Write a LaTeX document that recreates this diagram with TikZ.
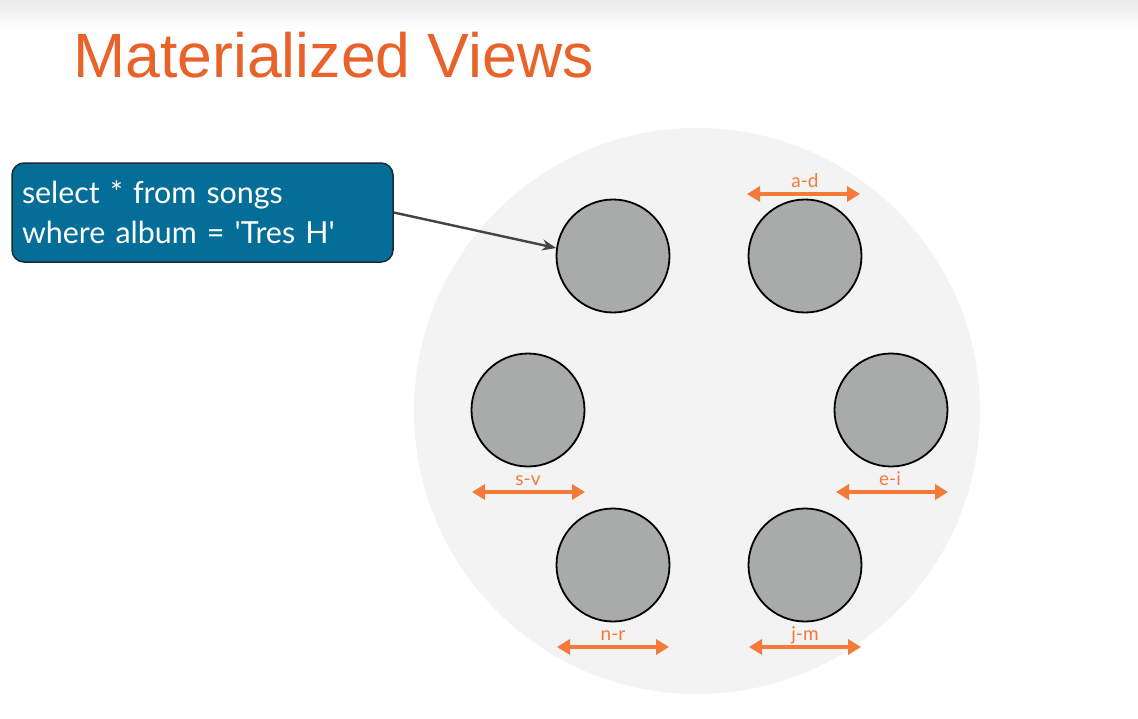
\documentclass[tikz,border=0pt]{standalone}
\usepackage{fontspec}
\setmainfont{Lato}
\newfontfamily\titlefont{Liberation Sans}
\usetikzlibrary{arrows.meta}
\definecolor{bigc}{HTML}{F3F3F3}
\definecolor{nodegray}{HTML}{A9ABAB}
\definecolor{orng}{HTML}{F47A3A}
\definecolor{titleor}{HTML}{E8622A}
\definecolor{qblue}{HTML}{046E99}
\definecolor{qedge}{HTML}{1E2A33}
\definecolor{arrgray}{HTML}{444444}
\tikzset{
  server/.style={circle, draw=black, line width=1.8pt, fill=nodegray, minimum size=113pt, inner sep=0pt},
  rangearrow/.style={draw=orng, line width=3.5pt, {Triangle[length=13pt,width=15pt]}-{Triangle[length=13pt,width=15pt]}},
  rlabel/.style={text=orng, font=\fontsize{19}{21}\selectfont, inner sep=0pt, anchor=base},
  query/.style={draw=qedge, line width=1.5pt, fill=qblue, rounded corners=12pt, text=white, align=left,
    font=\fontsize{30.4}{40}\selectfont, minimum width=381pt, minimum height=99pt, text width=361pt, inner sep=0pt},
}
\begin{document}
\begin{tikzpicture}[x=1pt,y=-1pt]
\useasboundingbox (0,0) rectangle (1138,718);
\fill[white] (0,0) rectangle (1138,718);
\shade[top color=black!8, bottom color=white] (0,0) rectangle (1138,30);
\node[anchor=base west, inner sep=0pt, text=titleor, font=\titlefont\fontsize{62.6}{70}\selectfont] (title) at (73,77) {Materialized Views};
\fill[bigc] (697,411) circle (283);
\node[server] (c1) at (613,256) {};
\node[server] (c2) at (805,256) {};
\node[server] (c3) at (528,410) {};
\node[server] (c4) at (891,410) {};
\node[server] (c5) at (613,565) {};
\node[server] (c6) at (805,565) {};
% ranges
\coordinate (adl) at (747,194); \coordinate (adr) at (860,194);
\draw[rangearrow] (adl) -- (adr);
\node[rlabel] (ad) at (805,187) {a-d};
\coordinate (svl) at (472,492); \coordinate (svr) at (585,492);
\draw[rangearrow] (svl) -- (svr);
\node[rlabel] (sv) at (528,485) {s-v};
\coordinate (eil) at (836,492); \coordinate (eir) at (948,492);
\draw[rangearrow] (eil) -- (eir);
\node[rlabel] (ei) at (890,485) {e-i};
\coordinate (nrl) at (557,647); \coordinate (nrr) at (669,647);
\draw[rangearrow] (nrl) -- (nrr);
\node[rlabel] (nr) at (613,640) {n-r};
\coordinate (jml) at (749,647); \coordinate (jmr) at (861,647);
\draw[rangearrow] (jml) -- (jmr);
\node[rlabel] (jm) at (805,640) {j-m};
% query
\node[query] (q) at (202.5,212.5) {select * from songs\\where album = \textquotesingle Tres H\textquotesingle};
\draw[arrgray, line width=2.4pt, -{Stealth[length=14pt,width=11pt]}] (q.east) -- (c1.172);
\end{tikzpicture}
\end{document}
